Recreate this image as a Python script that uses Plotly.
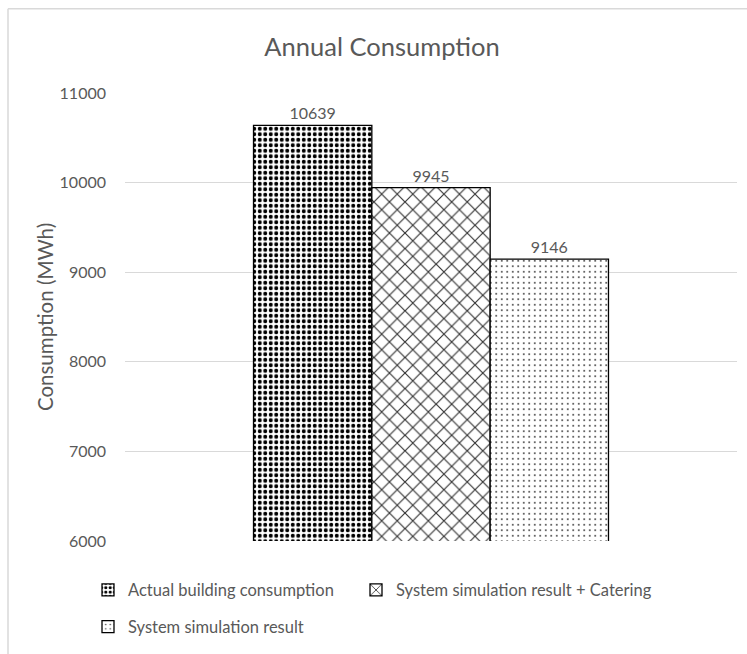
import plotly.graph_objects as go

# Annual consumption figures (MWh)
series_names = [
    "Actual building consumption",
    "System simulation result + Catering",
    "System simulation result",
]
consumption = [10639, 9945, 9146]
category = ["Annual"]

y_ticks = [6000, 7000, 8000, 9000, 10000, 11000]

# fill pattern for each series
patterns = [
    dict(shape=".", size=5.5, solidity=0.42, fgcolor="#000000", bgcolor="#ffffff", fillmode="replace"),
    dict(shape="x", size=11, solidity=0.2, fgcolor="#333333", bgcolor="#ffffff", fillmode="replace"),
    dict(shape=".", size=5.5, solidity=0.09, fgcolor="#333333", bgcolor="#ffffff", fillmode="replace"),
]
# each series gets its own legend box so the entries can be laid out in two rows
legend_ids = ["legend", "legend3", "legend2"]

W, H = 747, 654
ML, MR, MT, MB = 125, 10, 93, 109
PW, PH = W - ML - MR, H - MT - MB

def px_x(px):
    return (px - ML) / PW

def px_y(py):
    return (H - MB - py) / PH

TEXT = "#595959"
FONT = "Lato"

fig = go.Figure()
for name, val, pat, lg in zip(series_names, consumption, patterns, legend_ids):
    fig.add_trace(go.Bar(
        name=name,
        x=category,
        y=[val],
        marker=dict(color="#ffffff", pattern=pat, line=dict(color="#000000", width=1.3)),
        text=[f"{val}"],
        textposition="outside",
        textfont=dict(family=FONT, size=16, color=TEXT),
        cliponaxis=False,
        legend=lg,
        showlegend=True,
    ))

legend_style = dict(
    orientation="h",
    xanchor="left", yanchor="top",
    font=dict(family=FONT, size=16.5, color=TEXT),
    itemwidth=30,
    bgcolor="rgba(0,0,0,0)",
)

fig.update_layout(
    width=W, height=H,
    margin=dict(l=ML, r=MR, t=MT, b=MB),
    paper_bgcolor="#ffffff",
    plot_bgcolor="#ffffff",
    showlegend=True,
    barmode="group",
    bargap=0.42,
    bargroupgap=0,
    title=dict(
        text="Annual Consumption",
        font=dict(family=FONT, size=25.5, color=TEXT),
        x=382 / W, xanchor="center",
        y=1 - 47 / H, yanchor="middle",
        xref="container", yref="container",
    ),
    font=dict(family=FONT, size=16, color=TEXT),
    xaxis=dict(showticklabels=False, showgrid=False, zeroline=False, showline=False),
    yaxis=dict(
        range=[6000, 11000],
        tickvals=y_ticks,
        ticktext=[str(v) for v in y_ticks],
        tickfont=dict(family=FONT, size=16, color=TEXT),
        ticklabelstandoff=18,
        showgrid=True, gridcolor="#d9d9d9", gridwidth=1,
        zeroline=False, showline=False,
        title=dict(text="Consumption (MWh)", font=dict(family=FONT, size=20.5, color=TEXT), standoff=0),
    ),
    legend=dict(legend_style, x=px_x(88), y=px_y(577)),
    legend3=dict(legend_style, x=px_x(356), y=px_y(577)),
    legend2=dict(legend_style, x=px_x(88), y=px_y(614)),
    shapes=[
        # chart frame (left and top edges)
        dict(type="line", xref="paper", yref="paper",
             x0=px_x(8), x1=px_x(8), y0=px_y(8), y1=px_y(H + 5),
             line=dict(color="#d9d9d9", width=1.5)),
        dict(type="line", xref="paper", yref="paper",
             x0=px_x(8), x1=px_x(W + 5), y0=px_y(8), y1=px_y(8),
             line=dict(color="#d9d9d9", width=1.5)),
    ],
)

fig.write_html("out.html")
